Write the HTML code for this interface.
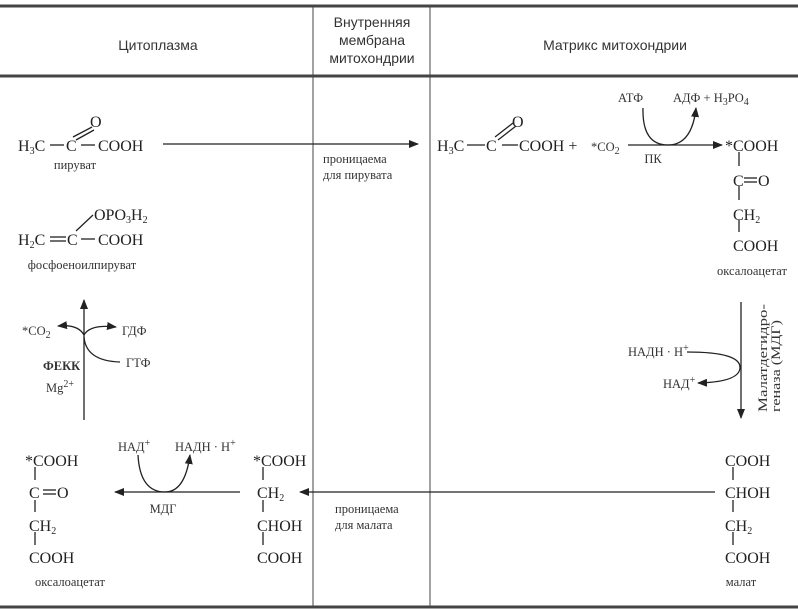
<!DOCTYPE html>
<html><head><meta charset="utf-8"><style>
html,body{margin:0;padding:0;background:#fff}
svg{display:block}
.s{font-family:"Liberation Sans",sans-serif;font-size:14px;fill:#333}
.r{font-family:"Liberation Serif",serif;font-size:16px;fill:#222}
.l{font-family:"Liberation Serif",serif;font-size:12.5px;fill:#333}
.sub{font-size:10px}
</style></head><body>
<svg width="798" height="615" viewBox="0 0 798 615" xmlns="http://www.w3.org/2000/svg">
<defs><marker id="a" markerWidth="10" markerHeight="8" refX="9" refY="4" orient="auto" markerUnits="userSpaceOnUse"><path d="M0,0 L10,4 L0,8 Z" fill="#222"/></marker></defs>
<g stroke="#444" fill="none">
<line x1="0" y1="6" x2="798" y2="6" stroke-width="3"/>
<line x1="0" y1="76" x2="798" y2="76" stroke-width="3"/>
<line x1="0" y1="607" x2="798" y2="607" stroke-width="3"/>
<line x1="313" y1="6" x2="313" y2="607" stroke-width="1"/>
<line x1="430" y1="6" x2="430" y2="607" stroke-width="1"/>
</g>
<text class="s" x="158" y="50" text-anchor="middle">Цитоплазма</text>
<text class="s" x="372" y="27" text-anchor="middle">Внутренняя</text>
<text class="s" x="372" y="45" text-anchor="middle">мембрана</text>
<text class="s" x="372" y="63" text-anchor="middle">митохондрии</text>
<text class="s" x="615" y="50" text-anchor="middle">Матрикс митохондрии</text>

<g stroke="#222" stroke-width="1.3" fill="none">
<line x1="50" y1="145" x2="64" y2="145"/><line x1="81" y1="145" x2="95" y2="145"/>
<line x1="73" y1="137" x2="92" y2="127"/><line x1="76" y1="140" x2="94" y2="130"/>
<line x1="163" y1="144" x2="418" y2="144" marker-end="url(#a)"/>
<line x1="50" y1="237" x2="66" y2="237"/><line x1="50" y1="241" x2="66" y2="241"/>
<line x1="81" y1="239" x2="95" y2="239"/><line x1="76" y1="231" x2="93" y2="215"/>
<line x1="84" y1="420" x2="84" y2="300" marker-end="url(#a)"/>
<path d="M84,335 Q78,324 58,326" marker-end="url(#a)"/>
<path d="M84,335 Q90,324 116,327" marker-end="url(#a)"/>
<path d="M84,337 Q86,361 120,362"/>
<line x1="467" y1="145" x2="485" y2="145"/><line x1="502" y1="145" x2="518" y2="145"/>
<line x1="495" y1="137" x2="513" y2="123"/><line x1="498" y1="140" x2="516" y2="126"/>
<line x1="628" y1="145" x2="722" y2="145" marker-end="url(#a)"/>
<path d="M643,108 Q642,145 668,145 Q692,145 696,108" marker-end="url(#a)"/>
<line x1="739" y1="152" x2="739" y2="166"/><line x1="739" y1="186" x2="739" y2="200"/><line x1="739" y1="220" x2="739" y2="232"/>
<line x1="744" y1="178" x2="757" y2="178"/><line x1="744" y1="182" x2="757" y2="182"/>
<line x1="741" y1="302" x2="741" y2="418" marker-end="url(#a)"/>
<path d="M687,352 Q741,352 740,368 Q739,382 698,383" marker-end="url(#a)"/>
<line x1="733" y1="467" x2="733" y2="480"/><line x1="733" y1="500" x2="733" y2="512"/><line x1="733" y1="532" x2="733" y2="545"/>
<line x1="715" y1="492" x2="300" y2="492" marker-end="url(#a)"/>
<line x1="263" y1="467" x2="263" y2="480"/><line x1="263" y1="500" x2="263" y2="512"/><line x1="263" y1="532" x2="263" y2="545"/>
<line x1="240" y1="492" x2="115" y2="492" marker-end="url(#a)"/>
<path d="M138,455 Q140,492 165,492 Q185,492 190,455" marker-end="url(#a)"/>
<line x1="35" y1="467" x2="35" y2="480"/><line x1="35" y1="500" x2="35" y2="512"/><line x1="35" y1="532" x2="35" y2="545"/>
<line x1="43" y1="490" x2="56" y2="490"/><line x1="43" y1="494" x2="56" y2="494"/>
</g>

<text class="r" x="18" y="151">H<tspan class="sub" dy="3">3</tspan><tspan dy="-3">C</tspan></text>
<text class="r" x="66" y="151">C</text>
<text class="r" x="98" y="151">COOH</text>
<text class="r" x="90" y="127">O</text>
<text class="l" x="75" y="169" text-anchor="middle">пируват</text>
<text class="l" x="323" y="163">проницаема</text>
<text class="l" x="323" y="179">для пирувата</text>

<text class="r" x="94" y="220">OPO<tspan class="sub" dy="3">3</tspan><tspan dy="-3">H</tspan><tspan class="sub" dy="3">2</tspan></text>
<text class="r" x="18" y="245">H<tspan class="sub" dy="3">2</tspan><tspan dy="-3">C</tspan></text>
<text class="r" x="67" y="245">C</text>
<text class="r" x="98" y="245">COOH</text>
<text class="l" x="82" y="269" text-anchor="middle">фосфоеноилпируват</text>

<text class="l" x="22" y="335">*CO<tspan class="sub" dy="3">2</tspan></text>
<text class="l" x="122" y="335">ГДФ</text>
<text class="l" x="126" y="367">ГТФ</text>
<text class="l" x="43" y="370" font-weight="bold">ФЕКК</text>
<text class="l" x="46" y="392">Mg<tspan class="sub" dy="-5">2+</tspan></text>

<text class="r" x="437" y="151">H<tspan class="sub" dy="3">3</tspan><tspan dy="-3">C</tspan></text>
<text class="r" x="486" y="151">C</text>
<text class="r" x="519" y="151">COOH +</text>
<text class="l" x="591" y="151">*CO<tspan class="sub" dy="3">2</tspan></text>
<text class="r" x="512" y="127">O</text>
<text class="l" x="618" y="102">АТФ</text>
<text class="l" x="673" y="102">АДФ + H<tspan class="sub" dy="3">3</tspan><tspan dy="-3">PO</tspan><tspan class="sub" dy="3">4</tspan></text>
<text class="l" x="653" y="163" text-anchor="middle">ПК</text>
<text class="r" x="725" y="151">*COOH</text>
<text class="r" x="733" y="186">C</text><text class="r" x="758" y="186">O</text>
<text class="r" x="733" y="220">CH<tspan class="sub" dy="3">2</tspan></text>
<text class="r" x="733" y="251">COOH</text>
<text class="l" x="752" y="275" text-anchor="middle">оксалоацетат</text>

<text class="l" x="628" y="356" fill="#777">НАДН · Н<tspan class="sub" dy="-5">+</tspan></text>
<text class="l" x="663" y="388">НАД<tspan class="sub" dy="-5">+</tspan></text>
<g transform="translate(757,412) rotate(-90)"><text class="l" x="0" y="10" textLength="108" lengthAdjust="spacingAndGlyphs">Малатдегидро-</text><text class="l" x="0" y="23" textLength="92" lengthAdjust="spacingAndGlyphs">геназа (МДГ)</text></g>

<text class="r" x="725" y="466">COOH</text>
<text class="r" x="725" y="498">CHOH</text>
<text class="r" x="725" y="531">CH<tspan class="sub" dy="3">2</tspan></text>
<text class="r" x="725" y="563">COOH</text>
<text class="l" x="741" y="586" text-anchor="middle">малат</text>
<text class="l" x="335" y="513">проницаема</text>
<text class="l" x="335" y="529">для малата</text>

<text class="r" x="253" y="466">*COOH</text>
<text class="r" x="257" y="498">CH<tspan class="sub" dy="3">2</tspan></text>
<text class="r" x="257" y="531">CHOH</text>
<text class="r" x="257" y="563">COOH</text>
<text class="l" x="118" y="451">НАД<tspan class="sub" dy="-5">+</tspan></text>
<text class="l" x="175" y="451">НАДН · Н<tspan class="sub" dy="-5">+</tspan></text>
<text class="l" x="163" y="513" text-anchor="middle">МДГ</text>

<text class="r" x="25" y="466">*COOH</text>
<text class="r" x="29" y="498">C</text><text class="r" x="57" y="498">O</text>
<text class="r" x="29" y="531">CH<tspan class="sub" dy="3">2</tspan></text>
<text class="r" x="29" y="563">COOH</text>
<text class="l" x="70" y="586" text-anchor="middle">оксалоацетат</text>
</svg>
</body></html>
